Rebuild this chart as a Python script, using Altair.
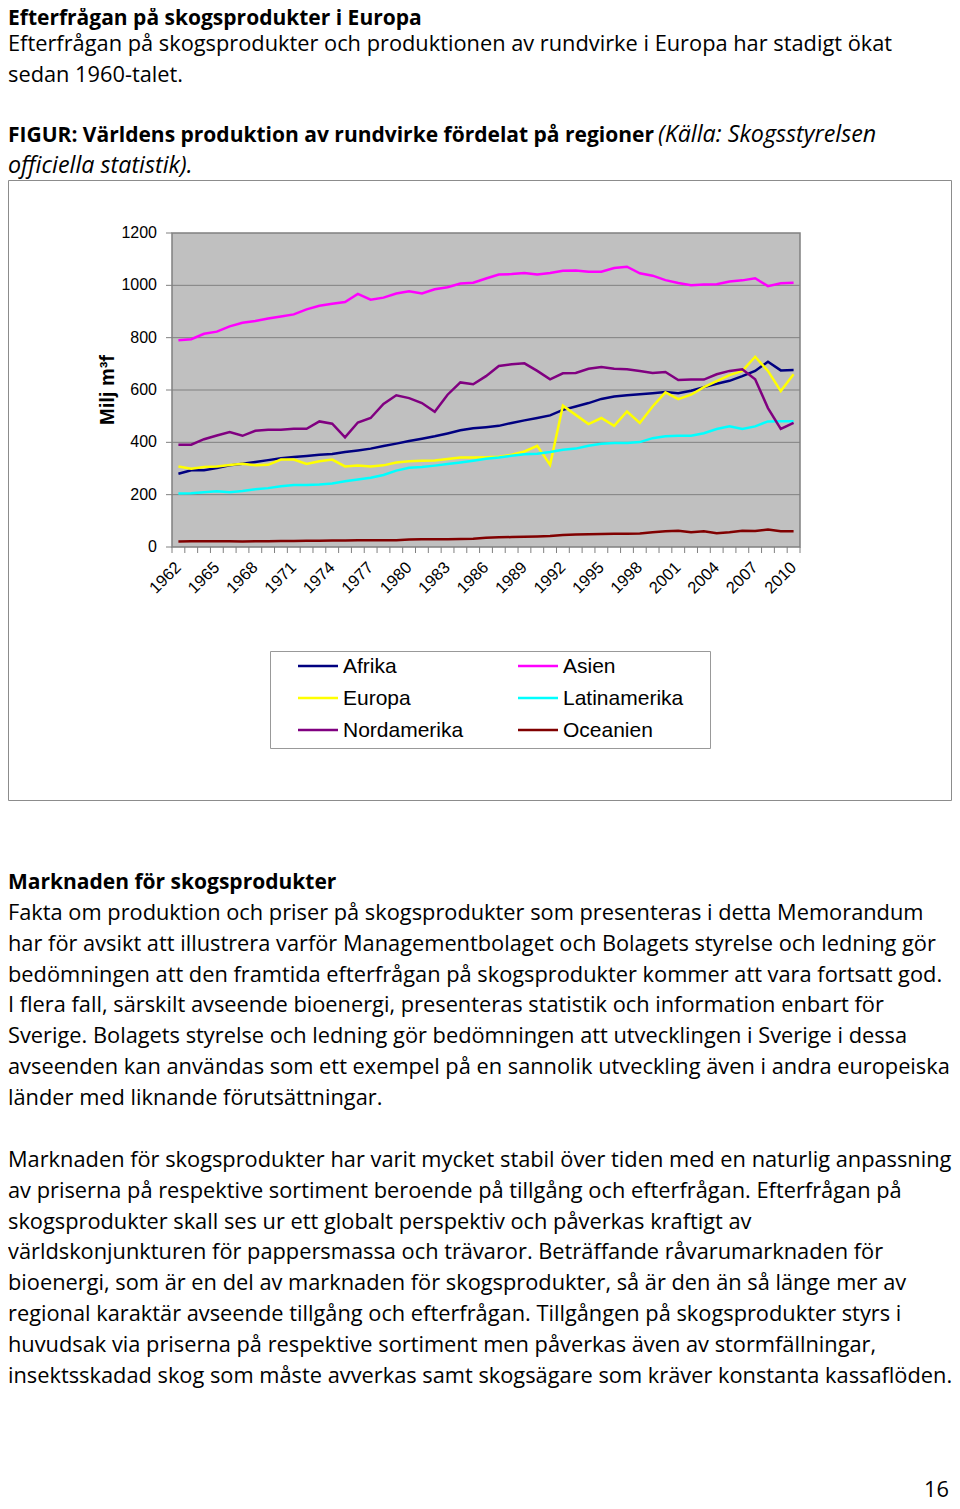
import altair as alt
import pandas as pd

# ---------------- data ----------------
YEARS = list(range(1962, 2011))
SERIES = ["Afrika", "Asien", "Europa", "Latinamerika", "Nordamerika", "Oceanien"]
COLORS = ["#000080", "#FF00FF", "#FFFF00", "#00FFFF", "#800080", "#800000"]

afrika = [280, 293, 293, 302, 312, 318, 325, 332, 339, 344,
          348, 353, 355, 363, 369, 376, 386, 395, 405, 414,
          423, 434, 446, 454, 458, 463, 474, 484, 493, 503,
          524, 537, 550, 566, 575, 580, 584, 588, 592, 588,
          597, 611, 624, 635, 653, 673, 708, 675, 676]
asien = [790, 794, 815, 823, 843, 857, 864, 873, 881, 889,
         908, 922, 930, 936, 967, 945, 953, 969, 977, 969,
         985, 993, 1007, 1010, 1026, 1041, 1043, 1047, 1041, 1047,
         1056, 1057, 1052, 1052, 1066, 1071, 1046, 1037, 1020, 1009,
         1000, 1003, 1004, 1015, 1019, 1027, 997, 1008, 1010]
europa = [308, 299, 306, 308, 313, 318, 312, 314, 334, 334,
          317, 328, 334, 308, 311, 308, 312, 323, 328, 330,
          331, 336, 342, 342, 343, 345, 353, 365, 387, 314,
          540, 505, 470, 493, 463, 518, 474, 537, 591, 565,
          582, 611, 634, 657, 673, 727, 673, 596, 660]
latinamerika = [204, 205, 209, 213, 209, 214, 221, 225, 232, 237,
                237, 239, 243, 251, 258, 265, 275, 292, 303, 306,
                311, 317, 323, 330, 337, 342, 349, 354, 356, 363,
                372, 376, 387, 395, 397, 397, 401, 416, 423, 425,
                425, 435, 451, 461, 451, 461, 480, 481, 481]
nordamerika = [391, 391, 412, 426, 439, 425, 444, 448, 448, 452,
               452, 480, 471, 419, 476, 493, 547, 580, 569, 550,
               517, 582, 629, 622, 653, 692, 698, 702, 673, 641,
               664, 665, 681, 688, 681, 679, 673, 665, 669, 638,
               640, 640, 660, 673, 679, 641, 531, 451, 474]
oceanien = [21, 22, 22, 22, 22, 21, 22, 22, 23, 23,
            24, 24, 25, 25, 26, 26, 26, 26, 29, 30,
            30, 30, 31, 32, 35, 37, 38, 39, 40, 42,
            46, 48, 49, 50, 51, 51, 52, 56, 60, 62,
            56, 60, 53, 56, 62, 61, 67, 60, 60]

Y_TICKS = [0, 200, 400, 600, 800, 1000, 1200]
X_LABEL_YEARS = list(range(1962, 2011, 3))

TITLE = "Efterfrågan på skogsprodukter i Europa"
INTRO = ["Efterfrågan på skogsprodukter och produktionen av rundvirke i Europa har stadigt ökat",
         "sedan 1960-talet."]
FIG_BOLD = "FIGUR: Världens produktion av rundvirke fördelat på regioner"
FIG_ITALIC_1 = "(Källa: Skogsstyrelsen"
FIG_ITALIC_2 = "officiella statistik)."
Y_TITLE = "Milj m³f"
SECTION = "Marknaden för skogsprodukter"
PARA1 = ["Fakta om produktion och priser på skogsprodukter som presenteras i detta Memorandum",
         "har för avsikt att illustrera varför Managementbolaget och Bolagets styrelse och ledning gör",
         "bedömningen att den framtida efterfrågan på skogsprodukter kommer att vara fortsatt god.",
         "I flera fall, särskilt avseende bioenergi, presenteras statistik och information enbart för",
         "Sverige. Bolagets styrelse och ledning gör bedömningen att utvecklingen i Sverige i dessa",
         "avseenden kan användas som ett exempel på en sannolik utveckling även i andra europeiska",
         "länder med liknande förutsättningar."]
PARA2 = ["Marknaden för skogsprodukter har varit mycket stabil över tiden med en naturlig anpassning",
         "av priserna på respektive sortiment beroende på tillgång och efterfrågan. Efterfrågan på",
         "skogsprodukter skall ses ur ett globalt perspektiv och påverkas kraftigt av",
         "världskonjunkturen för pappersmassa och trävaror. Beträffande råvarumarknaden för",
         "bioenergi, som är en del av marknaden för skogsprodukter, så är den än så länge mer av",
         "regional karaktär avseende tillgång och efterfrågan. Tillgången på skogsprodukter styrs i",
         "huvudsak via priserna på respektive sortiment men påverkas även av stormfällningar,",
         "insektsskadad skog som måste avverkas samt skogsägare som kräver konstanta kassaflöden."]
PAGE_NO = "16"

# ---------------- layout constants (pixels, chart coords) ----------------
W, H = 944, 1493
PX0, PX1 = 164, 792      # plot area left/right
PY0, PY1 = 539, 225      # plot area bottom/top
BODY_FONT = "Open Sans"
BODY_SIZE = 21.8
BOLD_SIZE = 21
ITALIC_SIZE = 23.3
AX_FONT = "Liberation Sans"
LINE_H = 30.8

xs = alt.Scale(domain=[YEARS[0] - 0.5, YEARS[-1] + 0.5], range=[PX0, PX1], nice=False, zero=False)
ys = alt.Scale(domain=[Y_TICKS[0], Y_TICKS[-1]], range=[PY0, PY1], nice=False, zero=False)
cs = alt.Scale(domain=SERIES, range=COLORS)

vals = [afrika, asien, europa, latinamerika, nordamerika, oceanien]
long = pd.DataFrame([{"year": y, "value": v, "region": s}
                     for s, arr in zip(SERIES, vals) for y, v in zip(YEARS, arr)])
ticks_df = pd.DataFrame({"v": Y_TICKS, "label": [str(t) for t in Y_TICKS]})
grid_df = pd.DataFrame({"v": Y_TICKS[1:-1]})
bound_df = pd.DataFrame({"b": [y - 0.5 for y in YEARS] + [YEARS[-1] + 0.5]})
xlab_df = pd.DataFrame({"year": X_LABEL_YEARS, "label": [str(y) for y in X_LABEL_YEARS]})
one = pd.DataFrame({"a": [0]})


def text_block(lines, x, y, size=BODY_SIZE, weight="normal", style="normal", font=BODY_FONT):
    return alt.Chart(one).mark_text(
        align="left", baseline="alphabetic", font=font, fontSize=size,
        fontWeight=weight, fontStyle=style, lineHeight=LINE_H, color="#000000"
    ).encode(x=alt.value(x), y=alt.value(y), text=alt.value(lines))


layers = []
# page text (top)
layers.append(text_block([TITLE], 0, 17, size=BOLD_SIZE, weight="bold"))
layers.append(text_block(INTRO, 0, 43))
layers.append(text_block([FIG_BOLD], 0, 134, size=BOLD_SIZE, weight="bold"))
layers.append(text_block([FIG_ITALIC_1], 650, 134, size=ITALIC_SIZE, style="italic"))
layers.append(text_block([FIG_ITALIC_2], 0, 165, size=ITALIC_SIZE, style="italic"))

# outer chart box
layers.append(alt.Chart(one).mark_rect(fill="#FFFFFF", stroke="#8C8C8C", strokeWidth=1).encode(
    x=alt.value(0.5), x2=alt.value(943.5), y=alt.value(172.5), y2=alt.value(792.5)))

# plot area background
layers.append(alt.Chart(one).mark_rect(fill="#C0C0C0").encode(
    x=alt.value(PX0), x2=alt.value(PX1), y=alt.value(PY1), y2=alt.value(PY0)))
# gridlines
layers.append(alt.Chart(grid_df).mark_rule(color="#808080", strokeWidth=1).encode(
    y=alt.Y("v:Q", scale=ys, axis=None), x=alt.value(PX0), x2=alt.value(PX1)))
# plot border
layers.append(alt.Chart(one).mark_rect(fill=None, stroke="#808080", strokeWidth=1.5).encode(
    x=alt.value(PX0), x2=alt.value(PX1), y=alt.value(PY1), y2=alt.value(PY0)))
# y ticks and labels
layers.append(alt.Chart(ticks_df).mark_rule(color="#808080", strokeWidth=1).encode(
    y=alt.Y("v:Q", scale=ys, axis=None), x=alt.value(PX0 - 6), x2=alt.value(PX0)))
layers.append(alt.Chart(ticks_df).mark_text(align="right", baseline="middle", font=AX_FONT,
                                            fontSize=16, color="#000000").encode(
    y=alt.Y("v:Q", scale=ys, axis=None), x=alt.value(PX0 - 15), text="label:N"))
# x ticks and labels
layers.append(alt.Chart(bound_df).mark_rule(color="#808080", strokeWidth=1).encode(
    x=alt.X("b:Q", scale=xs, axis=None), y=alt.value(PY0), y2=alt.value(PY0 + 6)))
layers.append(alt.Chart(xlab_df).mark_text(align="right", baseline="middle", angle=315,
                                           font=AX_FONT, fontSize=16.5, color="#000000", dx=0).encode(
    x=alt.X("year:Q", scale=xs, axis=None), y=alt.value(PY0 + 18), text="label:N"))
# y-axis title
layers.append(alt.Chart(one).mark_text(angle=270, align="center", baseline="middle", font=AX_FONT,
                                       fontSize=20, fontWeight="bold", color="#000000").encode(
    x=alt.value(100), y=alt.value(382), text=alt.value(Y_TITLE)))

# series lines
layers.append(alt.Chart(long).mark_line(strokeWidth=2.5).encode(
    x=alt.X("year:Q", scale=xs, axis=None),
    y=alt.Y("value:Q", scale=ys, axis=None),
    color=alt.Color("region:N", scale=cs, legend=None),
    detail="region:N"))

# legend
LEG_BOX = (262, 702, 643, 740)
LEG_COL_X = [290, 510]
LEG_ROW_Y = [658, 690, 722]
LEG_LINE = 40
layers.append(alt.Chart(one).mark_rect(fill="#FFFFFF", stroke="#999999", strokeWidth=1).encode(
    x=alt.value(LEG_BOX[0] + 0.5), x2=alt.value(LEG_BOX[1] + 0.5),
    y=alt.value(LEG_BOX[2] + 0.5), y2=alt.value(LEG_BOX[3] + 0.5)))
for i, (name, col) in enumerate(zip(SERIES, COLORS)):
    lx = LEG_COL_X[i % 2]
    ly = LEG_ROW_Y[i // 2]
    layers.append(alt.Chart(one).mark_rule(color=col, strokeWidth=2.5).encode(
        x=alt.value(lx), x2=alt.value(lx + LEG_LINE), y=alt.value(ly)))
    layers.append(alt.Chart(one).mark_text(align="left", baseline="middle", font=AX_FONT,
                                           fontSize=21, color="#000000").encode(
        x=alt.value(lx + LEG_LINE + 5), y=alt.value(ly + 1), text=alt.value(name)))

# page text (bottom)
layers.append(text_block([SECTION], 0, 881, size=BOLD_SIZE, weight="bold"))
layers.append(text_block(PARA1, 0, 912))
layers.append(text_block(PARA2, 0, 1159))
layers.append(alt.Chart(one).mark_text(align="right", baseline="alphabetic", font=BODY_FONT,
                                       fontSize=BODY_SIZE, color="#000000").encode(
    x=alt.value(W - 3), y=alt.value(H - 4), text=alt.value(PAGE_NO)))

chart = alt.layer(*layers).properties(
    width=W, height=H, padding=0, autosize="none", background="#FFFFFF"
).configure_view(stroke=None)

chart.save("out.html", embed_options={"renderer": "svg", "actions": False})
